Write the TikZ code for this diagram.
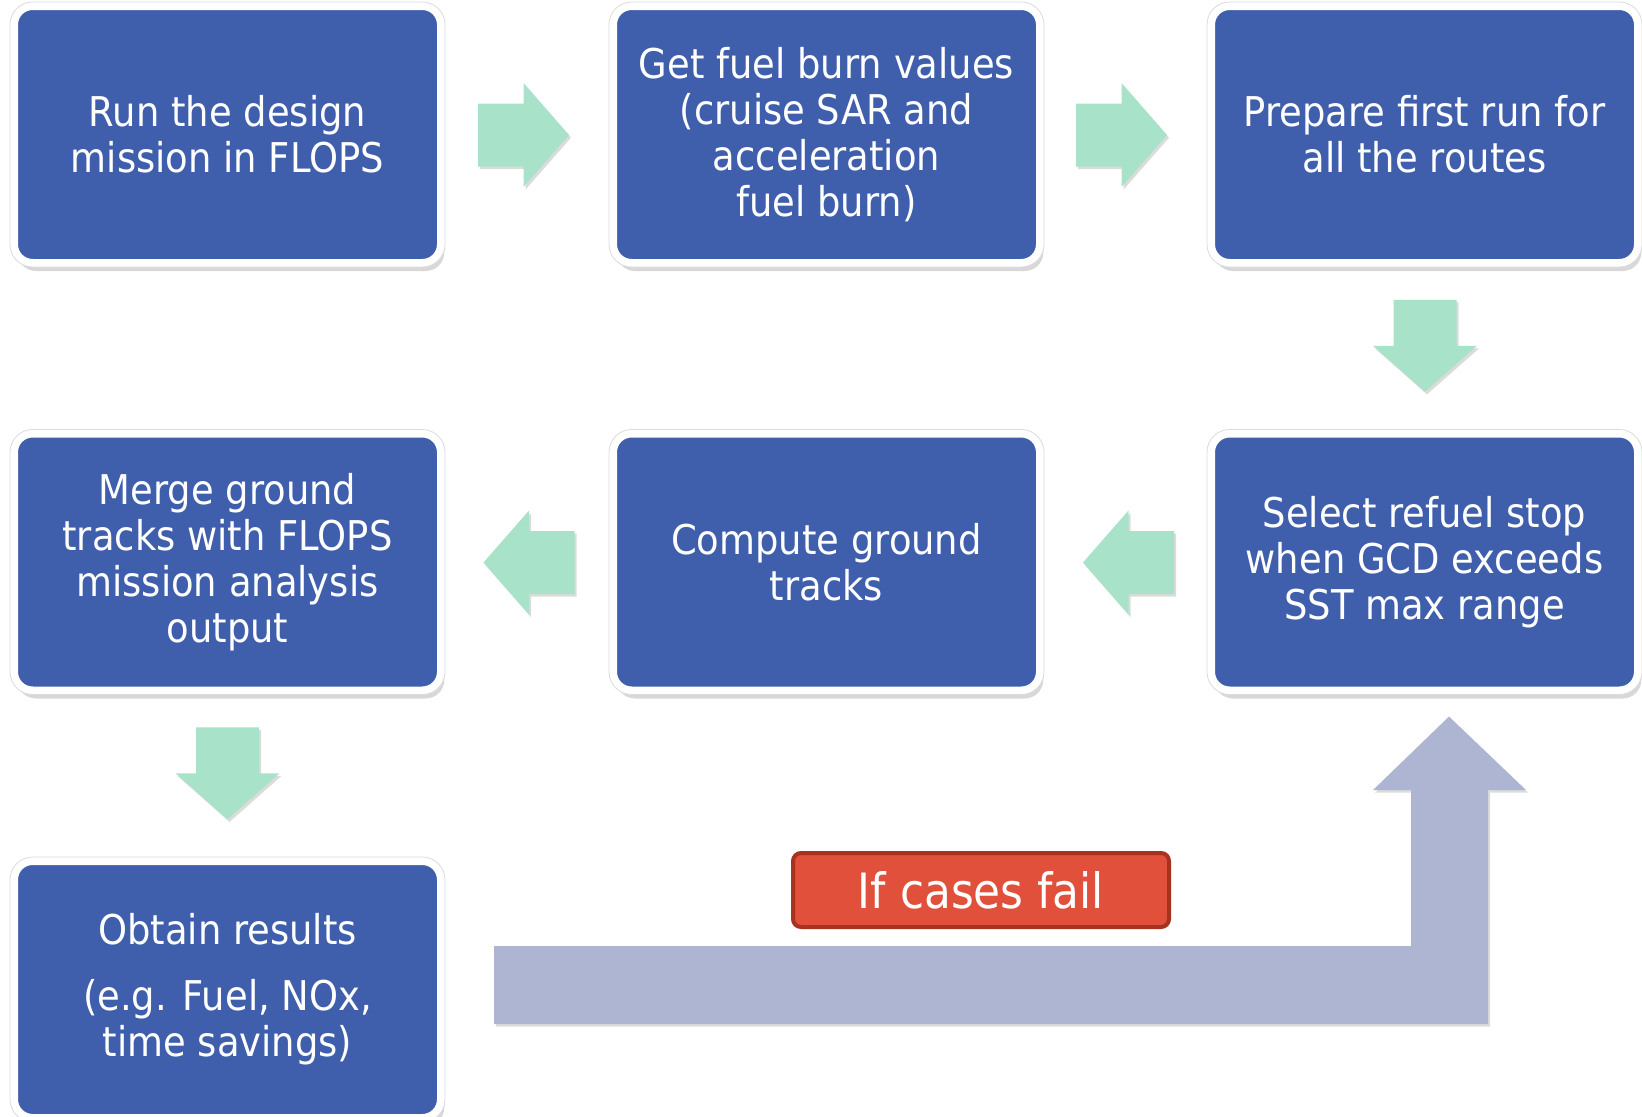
\documentclass[tikz,border=0pt]{standalone}
\usepackage{fontspec}
\setmainfont{DejaVu Sans}[FakeStretch=0.9]
\usetikzlibrary{shadows,calc}
\definecolor{boxblue}{HTML}{3F5EAB}
\definecolor{arrowgreen}{HTML}{A8E2C9}
\definecolor{loopblue}{HTML}{AEB5D3}
\definecolor{failred}{HTML}{E0503A}
\definecolor{failedge}{HTML}{A63220}
\begin{document}
\begin{tikzpicture}[x=0.75pt,y=-0.75pt,
  stepbox/.style={rounded corners=14pt, fill=boxblue, draw=white, line width=6pt,
    minimum width=320.25pt, minimum height=192.75pt, text=white, align=center,
    font=\fontsize{30.75pt}{34.5pt}\selectfont,
    drop shadow={shadow xshift=2.5pt, shadow yshift=-6pt, opacity=0.22, fill=black!70}},
  frameline/.style={draw=black!14, line width=0.6pt, rounded corners=17pt},
  failbox/.style={rounded corners=6pt, fill=failred, draw=failedge, line width=3pt,
    minimum width=282pt, minimum height=55.5pt, text=white,
    font=\fontsize{36.5pt}{40pt}\selectfont},
  greenarrow/.style={fill=arrowgreen, drop shadow={shadow xshift=1.5pt, shadow yshift=-2pt, opacity=0.2, fill=black!70}},
  looparrow/.style={fill=loopblue, drop shadow={shadow xshift=1.5pt, shadow yshift=-2pt, opacity=0.2, fill=black!70}},
  rarrow/.pic={\path[greenarrow] (-45.5,-31.5) -- (0,-31.5) -- (0,-52) -- (45.5,0) -- (0,52) -- (0,31.5) -- (-45.5,31.5) -- cycle;},
  larrow/.pic={\path[greenarrow] (45.5,-31.5) -- (0,-31.5) -- (0,-52) -- (-45.5,0) -- (0,52) -- (0,31.5) -- (45.5,31.5) -- cycle;},
  darrow/.pic={\path[greenarrow] (-31.5,-46) -- (31.5,-46) -- (31.5,0) -- (52,0) -- (0,46) -- (-52,0) -- (-31.5,0) -- cycle;}
]
\useasboundingbox (0,0) rectangle (1642,1117);

\node[stepbox] (b1) at (227.5,134.5) {Run the design\\mission in FLOPS};
\node[stepbox] (b2) at (826.5,134.5) {Get fuel burn values\\(cruise SAR and\\acceleration\\fuel burn)};
\node[stepbox] (b3) at (1424.5,134.5) {Prepare first run for\\all the routes};
\node[stepbox] (b6) at (1424.5,562) {Select refuel stop\\when GCD exceeds\\SST max range};
\node[stepbox] (b5) at (826.5,562) {Compute ground\\tracks};
\node[stepbox] (b4) at (227.5,562) {Merge ground\\tracks with FLOPS\\mission analysis\\output};
\node[stepbox] (b7) at (227.5,989.5) {Obtain results\\[15pt](e.g. Fuel, NOx,\\time savings)};

\foreach \n in {b1,b2,b3,b4,b5,b6,b7}
  \draw[frameline] (\n.north west) rectangle (\n.south east);

\pic at ($($(b1.east)!0.5!(b2.west)$)+(-3.5,0.5)$) {rarrow};
\pic at ($($(b2.east)!0.5!(b3.west)$)+(-4,0.5)$) {rarrow};
\pic at ($($(b3.south)!0.5!(b6.north)$)+(0.5,-2.5)$) {darrow};
\pic at ($($(b6.west)!0.5!(b5.east)$)+(3,0.5)$) {larrow};
\pic at ($($(b5.west)!0.5!(b4.east)$)+(2,0.5)$) {larrow};
\pic at ($($(b4.south)!0.5!(b7.north)$)+(0,-2.5)$) {darrow};

\coordinate (looptip) at ($(b6.south)+(24.5,22)$);
\path[looparrow] (494,946) -- (1411,946) -- (1411,790) -- (1373,790) -- (looptip)
  -- (1526,790) -- (1488,790) -- (1488,1024) -- (494,1024) -- cycle;

\node[failbox] (fail) at (981,890) {If cases fail};
\end{tikzpicture}
\end{document}
